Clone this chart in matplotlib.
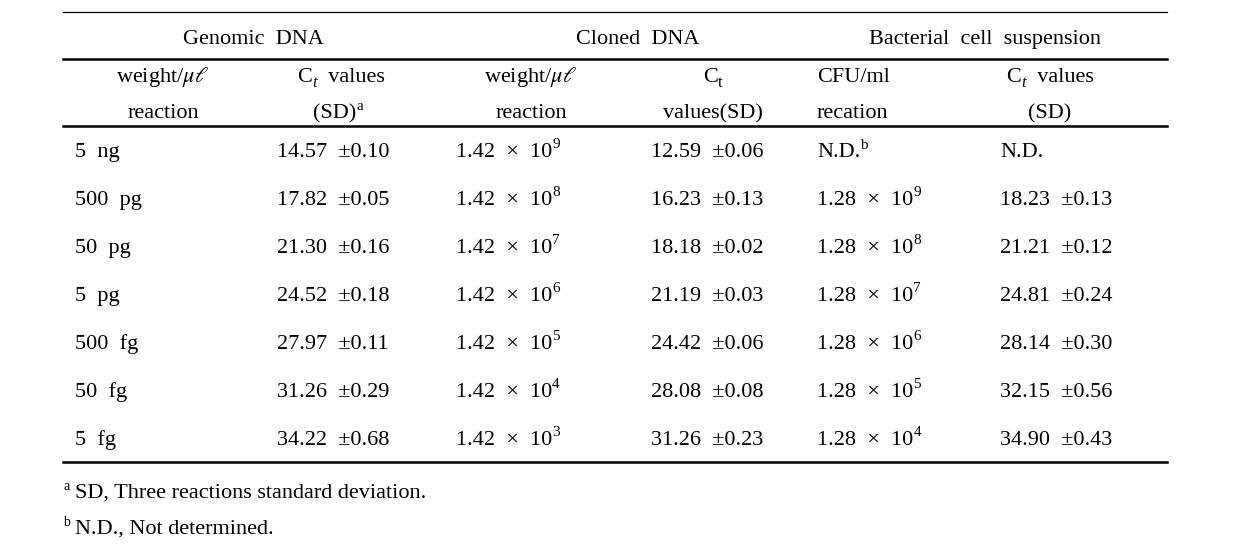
import matplotlib
matplotlib.use("Agg")
import matplotlib.pyplot as plt

plt.rcParams['font.family'] = ['Liberation Serif', 'DejaVu Serif']
plt.rcParams['mathtext.fontset'] = 'stix'

# ---- data ----
groups = ["Genomic  DNA", "Cloned  DNA", "Bacterial  cell  suspension"]
amounts = ["5  ng", "500  pg", "50  pg", "5  pg", "500  fg", "50  fg", "5  fg"]
genomic_ct = [14.57, 17.82, 21.30, 24.52, 27.97, 31.26, 34.22]
genomic_sd = [0.10, 0.05, 0.16, 0.18, 0.11, 0.29, 0.68]
cloned_base = 1.42
cloned_exp = [9, 8, 7, 6, 5, 4, 3]
cloned_ct = [12.59, 16.23, 18.18, 21.19, 24.42, 28.08, 31.26]
cloned_sd = [0.06, 0.13, 0.02, 0.03, 0.06, 0.08, 0.23]
bact_base = 1.28
bact_exp = [None, 9, 8, 7, 6, 5, 4]
bact_ct = [None, 18.23, 21.21, 24.81, 28.14, 32.15, 34.90]
bact_sd = [None, 0.13, 0.12, 0.24, 0.30, 0.56, 0.43]
footnotes = [("a", "SD, Three reactions standard deviation."),
             ("b", "N.D., Not determined.")]

W, H = 1234, 550
fig = plt.figure(figsize=(W / 100, H / 100), dpi=100)
ax = fig.add_axes([0, 0, 1, 1])
ax.set_xlim(0, W)
ax.set_ylim(H, 0)
ax.axis('off')

fs = 16
B = 7  # baseline offset below row centre (px)
kw = dict(fontsize=fs, va='baseline', color='black')


def after(t, s, rise, size=11, style='normal', dx=0):
    """Attach a small raised/lowered text to the right end of text artist t."""
    return ax.annotate(s, xy=(1, 0), xycoords=t, xytext=(dx, 5 + rise),
                       textcoords='offset pixels', fontsize=size,
                       fontstyle=style, va='baseline', ha='left')


def ct_label(x, y, italic, rest):
    """C with subscript t, followed by optional text; centred around x."""
    t1 = ax.text(0, y, "C", ha='left', **kw)
    t2 = after(t1, "t", -5, size=12, style='italic' if italic else 'normal')
    last = t2
    if rest:
        last = ax.annotate(rest, xy=(1, 0), xycoords=(t2, t1), xytext=(0, 0),
                           textcoords='offset pixels', fontsize=fs,
                           va='bottom', ha='left')
    fig.canvas.draw()
    r = fig.canvas.get_renderer()
    w = last.get_window_extent(r).x1 - t1.get_window_extent(r).x0
    t1.set_x(x - w / 2)


# rules
x0, x1 = 63, 1167
ax.plot([x0, x1], [12, 12], color='black', lw=0.9)
ax.plot([x0, x1], [59, 59], color='black', lw=1.8)
ax.plot([x0, x1], [126, 126], color='black', lw=1.8)
ax.plot([x0, x1], [462, 462], color='black', lw=1.8)

# group headers
for g, xc in zip(groups, [253, 638, 985]):
    ax.text(xc, 37 + B, g, ha='center', **kw)

# sub headers
r1, r2 = 75 + B, 111 + B
ax.text(163, r1, r"weight/$\mu\ell$", ha='center', **kw)
ax.text(163, r2, "reaction", ha='center', **kw)
ct_label(341, r1, True, "  values")
t = ax.text(335, r2, "(SD)", ha='center', **kw)
after(t, "a", 8)
ax.text(531, r1, r"weight/$\mu\ell$", ha='center', **kw)
ax.text(531, r2, "reaction", ha='center', **kw)
ct_label(713, r1, False, "")
ax.text(713, r2, "values(SD)", ha='center', **kw)
ax.text(817, r1, "CFU/ml", ha='left', **kw)
ax.text(817, r2, "recation", ha='left', **kw)
ct_label(1050, r1, True, "  values")
ax.text(1050, r2, "(SD)", ha='center', **kw)

# body
y0, dy = 150, 48
for i in range(len(amounts)):
    y = y0 + i * dy + B
    ax.text(75, y, amounts[i], ha='left', **kw)
    ax.text(277, y, f"{genomic_ct[i]:.2f}  \u00b1{genomic_sd[i]:.2f}", ha='left', **kw)
    t = ax.text(456, y, f"{cloned_base:.2f}  \u00d7  10", ha='left', **kw)
    after(t, str(cloned_exp[i]), 9)
    ax.text(651, y, f"{cloned_ct[i]:.2f}  \u00b1{cloned_sd[i]:.2f}", ha='left', **kw)
    if bact_exp[i] is None:
        t = ax.text(817, y, "N.D.", ha='left', **kw)
        after(t, "b", 8)
        ax.text(1000, y, "N.D.", ha='left', **kw)
    else:
        t = ax.text(817, y, f"{bact_base:.2f}  \u00d7  10", ha='left', **kw)
        after(t, str(bact_exp[i]), 9)
        ax.text(1000, y, f"{bact_ct[i]:.2f}  \u00b1{bact_sd[i]:.2f}", ha='left', **kw)

# footnotes
for j, (mark, txt) in enumerate(footnotes):
    y = 491 + j * 36 + B
    ax.text(63, y - 8, mark, ha='left', fontsize=10, va='baseline')
    ax.text(75, y, txt, ha='left', **kw)

fig.savefig("out.png", dpi=100, facecolor='white')
